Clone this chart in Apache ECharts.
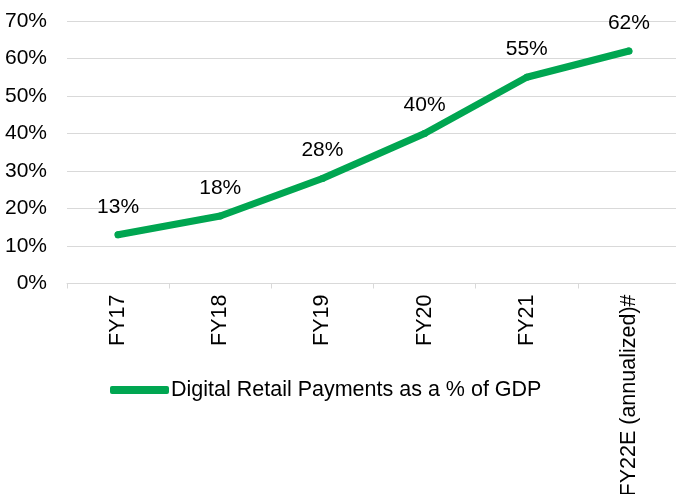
<!DOCTYPE html>
<html>
<head>
<meta charset="utf-8">
<script src="https://cdn.jsdelivr.net/npm/echarts@6/dist/echarts.min.js"></script>
<style>
  html, body { margin: 0; padding: 0; background: #fff; }
  #chart { width: 676px; height: 494px; }
</style>
</head>
<body>
<div id="chart"></div>
<script>
// 数据
var categories = ['FY17', 'FY18', 'FY19', 'FY20', 'FY21', 'FY22E (annualized)#'];
var values = [13, 18, 28, 40, 55, 62];
var seriesName = 'Digital Retail Payments as a % of GDP';

var chart = echarts.init(document.getElementById('chart'));
var option = {
  animation: false,
  textStyle: { fontFamily: 'Liberation Sans, Arial, sans-serif' },
  grid: { left: 67, right: -4, top: 21, bottom: 210.5, containLabel: false, outerBoundsMode: 'none' },
  legend: {
    data: [{ name: seriesName, icon: 'roundRect' }],
    left: 105,
    top: 374,
    itemWidth: 59,
    itemHeight: 8,
    itemStyle: { color: '#00A651', opacity: 1 },
    textStyle: { fontSize: 21.5, color: '#000', padding: [0, 0, 0, -3] }
  },
  xAxis: {
    type: 'category',
    data: categories,
    boundaryGap: true,
    axisLine: { lineStyle: { color: '#d9d9d9', width: 1 } },
    axisTick: { show: true, length: 5, lineStyle: { color: '#d9d9d9' } },
    axisLabel: { rotate: 90, fontSize: 21.5, color: '#000', margin: 11 }
  },
  yAxis: {
    type: 'value',
    min: 0,
    max: 70,
    interval: 10,
    axisLine: { show: false },
    axisTick: { show: false },
    axisLabel: { formatter: '{value}%', fontSize: 21, color: '#000', margin: 20 },
    splitLine: { lineStyle: { color: '#d9d9d9', width: 1 } }
  },
  series: [{
    name: seriesName,
    type: 'line',
    data: values,
    symbol: 'circle',
    symbolSize: 7,
    showSymbol: true,
    itemStyle: { color: '#00A651' },
    lineStyle: { width: 7, cap: 'round', join: 'round', color: '#00A651' },
    label: {
      show: true,
      position: 'top',
      distance: 14,
      formatter: '{c}%',
      fontSize: 21,
      color: '#000'
    }
  }]
};
chart.setOption(option);
</script>
</body>
</html>
